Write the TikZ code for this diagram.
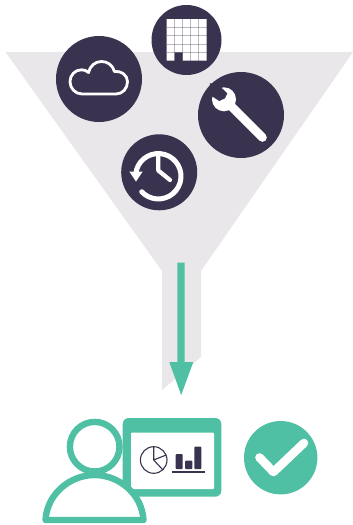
\documentclass[tikz,border=0pt]{standalone}
\definecolor{inkdark}{HTML}{3A334F}
\definecolor{funnelgrey}{HTML}{E9E7EA}
\definecolor{mint}{HTML}{50C0A5}
\tikzset{
  disc/.style={fill=inkdark},
  whiteline/.style={draw=white,line cap=round,line join=round},
  gridgap/.style={draw=inkdark,draw opacity=0.35,line width=0.7pt},
  mintline/.style={draw=mint,line width=6.4pt,line join=round},
  chartline/.style={draw=inkdark,line width=1.1pt}
}
\begin{document}
\begin{tikzpicture}[x=1pt,y=-1pt]
\useasboundingbox (0,0) rectangle (353,525);
% funnel
\fill[funnelgrey] (5.5,52) -- (353,52) -- (201,271) -- (201,357) -- (162,390) -- (162,271) -- cycle;
% discs
\fill[disc] (99,79) circle (43);
\fill[disc] (186.5,40) circle (35);
\fill[disc] (241,115) circle (43);
\fill[disc] (159.2,172.3) circle (38);
% cloud
\draw[whiteline,line width=2.8pt]
  (82,94) -- (116,94)
  .. controls (122.5,94) and (127.5,88.5) .. (127.5,81.7)
  .. controls (127.5,75) and (121,70.5) .. (114.5,71.5)
  .. controls (112.5,65) and (107.5,61.5) .. (101.5,61.5)
  .. controls (95,61.5) and (90,66) .. (88.5,72.5)
  .. controls (86.5,70.5) and (84,69.8) .. (81.5,69.8)
  .. controls (75,69.8) and (70,75) .. (70,81.7)
  .. controls (70,88) and (75,94) .. (82,94) -- cycle;
% grid
\fill[white] (166.7,19) -- (206.7,19) -- (206.7,60.7) -- (182.7,60.7) -- (182.7,52.4) -- (174.7,52.4) -- (174.7,60.7) -- (166.7,60.7) -- cycle;
\foreach \gx in {174.7,182.7,190.7,198.7}{
  \draw[gridgap] (\gx,19) -- (\gx,60.7);
}
\foreach \gy in {27.3,35.6,43.9,52.2}{
  \draw[gridgap] (166.7,\gy) -- (206.7,\gy);
}
% wrench
\draw[whiteline,line width=8.6pt] (228,103) -- (262.5,137.5);
\fill[white] (224,99.3) circle (12);
\fill[inkdark] (220,83.3) -- (222,88.3) -- (227.3,93.3) -- (225,98.3) -- (219.3,101) -- (212.7,96.7) -- (208.3,95) -- (210,83.3) -- cycle;
% clock
\draw[whiteline,line width=5pt] (158.3,172.3) ++(175:22.7) arc[start angle=-175,end angle=137,radius=22.7];
\fill[white] (129.3,171.5) -- (142.7,171.5) -- (136,181.5) -- cycle;
\draw[whiteline,line width=4.2pt] (158.3,156) -- (158.3,170.5) -- (170,180);
% screen
\fill[mint,rounded corners=6pt] (122.7,418) rectangle (221.3,496.7);
\fill[white,rounded corners=1pt] (131,432.7) rectangle (214,489);
% person
\draw[mintline,fill=white] (45.5,520) .. controls (47,494) and (70,475) .. (94.5,475)
  .. controls (119,475) and (142,494) .. (143.5,520) -- cycle;
\draw[mint,line width=6.4pt,fill=white] (94.7,446.7) circle (24.8);
% pie chart
\draw[chartline] (153.7,460) circle (13.3);
\draw[chartline,line join=round] (153.7,447) -- (153.7,460) -- (166.2,455);
\draw[chartline] (153.7,460) -- (163,470);
% bars
\fill[inkdark,rounded corners=0.8pt] (175.7,469) rectangle (182.7,454);
\fill[inkdark,rounded corners=0.8pt] (185,469) rectangle (192.3,460.7);
\fill[inkdark,rounded corners=0.8pt] (194.3,469) rectangle (201.3,446.7);
\draw[chartline] (172.3,472) -- (205,472);
% arrow
\fill[mint] (177.3,262.7) -- (184.7,262.7) -- (184.7,362) -- (193.3,362) -- (181.2,395) -- (169.3,362) -- (177.3,362) -- cycle;
% check badge
\fill[mint] (280.7,457.7) circle (36.7);
\draw[whiteline,line width=8.6pt] (259.5,457.5) -- (273.5,472) -- (304,443);
\end{tikzpicture}
\end{document}
